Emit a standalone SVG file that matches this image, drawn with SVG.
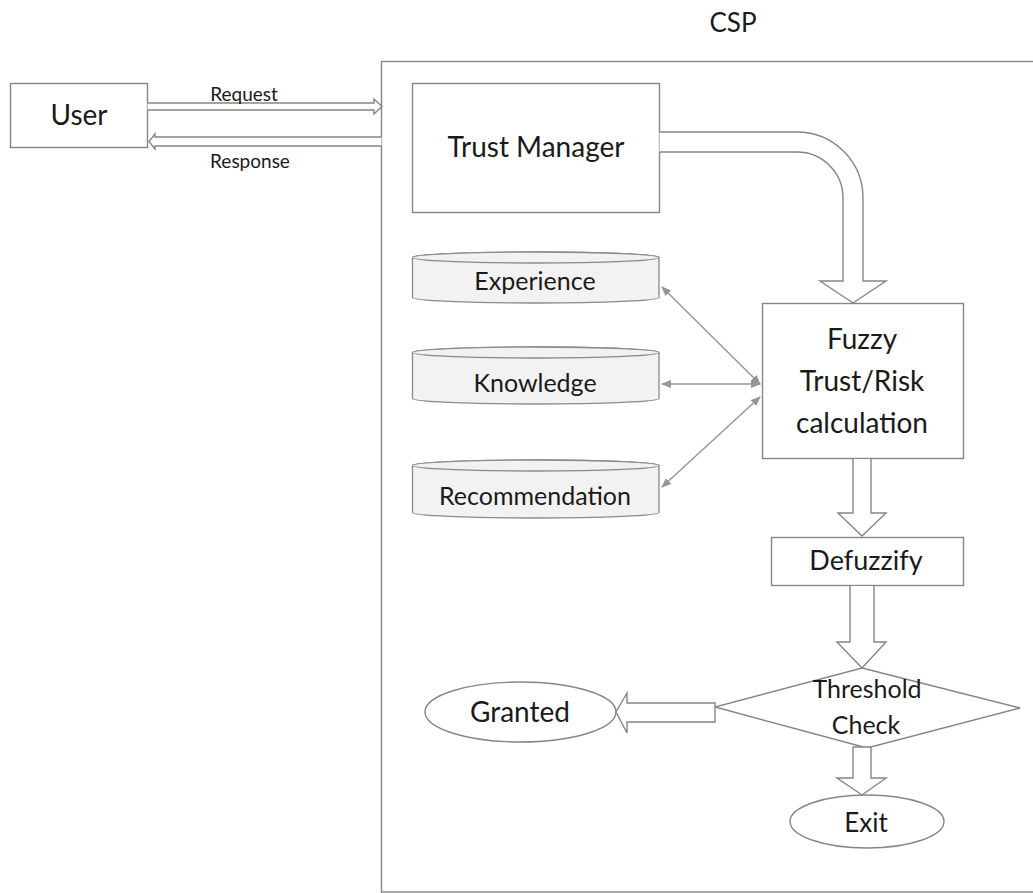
<svg xmlns="http://www.w3.org/2000/svg" width="1033" height="893" viewBox="0 0 1033 893">
<style>
.box{fill:#fff;stroke:#858585;stroke-width:1.4}
.cyl{fill:#f2f2f2;stroke:#8a8a8a;stroke-width:1.3}
.blk{fill:#fff;stroke:#858585;stroke-width:1.4;stroke-linejoin:miter}
.lnk{fill:none;stroke:#959595;stroke-width:1.4}
text{font-family:Lato,"Open Sans","Liberation Sans",sans-serif;fill:#1a1a1a;text-anchor:middle}
</style>
<defs>
<marker id="ah" viewBox="0 0 10 8" refX="9" refY="4" markerWidth="10" markerHeight="8" markerUnits="userSpaceOnUse" orient="auto-start-reverse">
<path d="M0,0 L10,4 L0,8 Z" fill="#959595"/>
</marker>
</defs>
<rect width="1033" height="893" fill="#fff"/>

<g id="csp">
<rect class="box" x="381.5" y="61.5" width="700" height="830.5"/>
<text x="733" y="32" font-size="26">CSP</text>
</g>

<g id="user">
<rect class="box" x="10.5" y="83.5" width="137" height="64"/>
<text x="79" y="125" font-size="28">User</text>
</g>

<g id="trust-manager">
<rect class="box" x="412.5" y="83.5" width="247" height="129"/>
<text x="536" y="157" font-size="28">Trust Manager</text>
</g>

<g id="experience">
<path class="cyl" d="M412.5,257.5 L412.5,297.5 A123.25,5.5 0 0 0 659,297.5 L659,257.5 A123.25,5.5 0 0 0 412.5,257.5 Z"/>
<ellipse class="cyl" cx="535.75" cy="257.5" rx="123.25" ry="5.5"/>
<text x="535" y="290" font-size="25">Experience</text>
</g>

<g id="knowledge">
<path class="cyl" d="M412.5,352.5 L412.5,398.5 A123.25,5.5 0 0 0 659,398.5 L659,352.5 A123.25,5.5 0 0 0 412.5,352.5 Z"/>
<ellipse class="cyl" cx="535.75" cy="352.5" rx="123.25" ry="5.5"/>
<text x="535" y="392" font-size="25">Knowledge</text>
</g>

<g id="recommendation">
<path class="cyl" d="M412.5,465.5 L412.5,512.5 A123.25,5.5 0 0 0 659,512.5 L659,465.5 A123.25,5.5 0 0 0 412.5,465.5 Z"/>
<ellipse class="cyl" cx="535.75" cy="465.5" rx="123.25" ry="5.5"/>
<text x="535" y="505" font-size="25">Recommendation</text>
</g>

<g id="fuzzy">
<rect class="box" x="762.5" y="303.5" width="201" height="155"/>
<text x="862" y="349" font-size="28">Fuzzy</text>
<text x="862" y="391" font-size="28">Trust/Risk</text>
<text x="862" y="433" font-size="28">calculation</text>
</g>

<g id="defuzzify">
<rect class="box" x="771.5" y="537.5" width="192" height="48"/>
<text x="866" y="570" font-size="27">Defuzzify</text>
</g>

<g id="threshold">
<polygon class="box" points="862,668 1020,708 867,748 715,707"/>
<text x="867" y="698" font-size="25">Threshold</text>
<text x="866" y="734" font-size="25">Check</text>
</g>

<g id="granted">
<ellipse class="box" cx="520.5" cy="712" rx="95.5" ry="30"/>
<text x="520" y="722" font-size="28">Granted</text>
</g>

<g id="exit">
<ellipse class="box" cx="867" cy="821.5" rx="77" ry="26.5"/>
<text x="866" y="832" font-size="26">Exit</text>
</g>

<g id="connectors">
<path class="blk" d="M147.5,103 L374,103 L374,99 L382,106.5 L374,114 L374,110 L147.5,110"/>
<path class="blk" d="M381.5,137 L155,137 L155,134 L149,141.5 L155,149 L155,146 L381.5,146"/>
<text x="244" y="101" font-size="19">Request</text>
<text x="250" y="168" font-size="19">Response</text>
<path class="blk" d="M659.5,132 L797,132 A66,66 0 0 1 863,198 L863,281 L886,281 L853,303 L820,281 L843,281 L843,198 A46,46 0 0 0 797,152 L659.5,152"/>
<line class="lnk" x1="662" y1="287" x2="760" y2="384" marker-start="url(#ah)" marker-end="url(#ah)"/>
<line class="lnk" x1="662" y1="384" x2="760" y2="384" marker-start="url(#ah)" marker-end="url(#ah)"/>
<line class="lnk" x1="662" y1="487" x2="760" y2="397" marker-start="url(#ah)" marker-end="url(#ah)"/>
<path class="blk" d="M853,459 L853,513 L838,513 L862,536 L886,513 L871,513 L871,459"/>
<path class="blk" d="M850,586 L850,642 L837,642 L862,668 L886,642 L874,642 L874,586"/>
<path class="blk" d="M853,747 L853,778 L837,778 L862,795 L886,778 L871,778 L871,747 Z"/>
<path class="blk" d="M715,703 L627,703 L627,693 L616,712 L627,733 L627,722 L715,722 Z"/>
</g>
</svg>
